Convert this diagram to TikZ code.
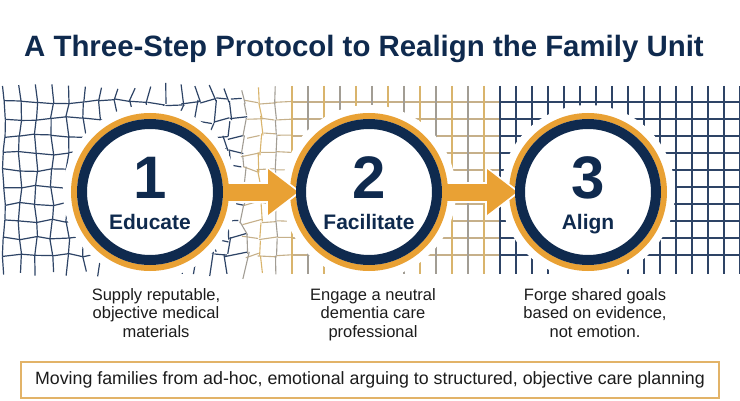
\documentclass[tikz,border=0pt]{standalone}
\usepackage{fontspec}
\setmainfont{Liberation Sans}
\usetikzlibrary{arrows.meta,positioning}
\definecolor{navy}{HTML}{0F2A4E}
\definecolor{gridnavy}{HTML}{2E4466}
\definecolor{gold}{HTML}{E9A134}
\definecolor{gridgold}{HTML}{D9B46C}
\definecolor{gridgray}{HTML}{A29D94}
\definecolor{gridtan}{HTML}{C6B08A}
\definecolor{boxgold}{HTML}{E2B368}
\definecolor{bodytext}{HTML}{1C1C1C}

\begin{document}
\begin{tikzpicture}[x=1pt, y=1pt,
  gridline/.style={line width=1.2pt, draw=#1},
  midline/.style={line width=1.1pt, draw=#1},
  halo/.style={fill=white},
  stepcircle/.style={circle, draw=gold, line width=6pt, fill=white,
                     minimum size=152pt, inner sep=0pt},
  navyring/.style={draw=navy, line width=10pt},
  stepnum/.style={text=navy, inner sep=0pt, anchor=base,
                  font=\bfseries\fontsize{60}{60}\selectfont},
  steplabel/.style={text=navy, inner sep=0pt, anchor=base,
                    font=\bfseries\fontsize{21}{21}\selectfont},
  desc/.style={text=bodytext, align=center, inner sep=0pt, anchor=north,
               font=\fontsize{16.5}{18.3}\selectfont},
  arrback/.style={white, line width=21pt, shorten <=8pt, shorten >=-11.3pt,
                  -{Triangle[length=35.3pt, width=53pt, line width=0pt]}},
  arr/.style={gold, line width=17pt, shorten <=-3pt, shorten >=-8pt,
              -{Triangle[length=30pt, width=46pt, line width=0pt]}},
  note/.style={draw=boxgold, line width=1.5pt, fill=white, text=bodytext,
               minimum width=698pt, minimum height=36pt, inner sep=0pt,
               font=\fontsize{17.8}{18}\selectfont}
]
  \useasboundingbox (0,0) rectangle (740,400);
  \fill[white] (0,0) rectangle (740,400);

  % --- Titre ---
  \node[text=navy, inner sep=0pt, anchor=base west,
        font=\bfseries\fontsize{29.4}{30}\selectfont] (title) at (24,343)
        {A Three-Step Protocol to Realign the Family Unit};

  % --- Grille de fond (deformee a gauche) ---
  \pgfmathsetseed{42}
  \foreach \i in {0,...,46} {
    \pgfmathsetmacro{\xa}{4+16*\i}
    \pgfmathsetmacro{\xb}{\xa+16}
    \pgfmathsetmacro{\ampa}{\xa<240 ? 1.5+1.5*\xa/235 : max(0,3*(290-\xa)/50)}
    \pgfmathsetmacro{\ampb}{\xb<240 ? 1.5+1.5*\xb/235 : max(0,3*(290-\xb)/50)}
    \pgfmathsetmacro{\noi}{\xa<240 ? 0.2+3*(\xa/235)*(\xa/235) : max(0,3.2*(290-\xa)/50)}
    \def\ls{gridline}%
    \ifnum\i<15 \def\vc{gridnavy}\def\hc{gridnavy}%
    \else\ifnum\i<31 \def\ls{midline}\ifodd\i\def\vc{gridgray}\else\def\vc{gridgold}\fi\def\hc{gridtan}%
    \else\def\vc{gridnavy}\def\hc{gridnavy}\fi\fi
    \foreach \j in {0,...,9} {
      \pgfmathsetmacro{\ya}{298-17*\j}
      \pgfmathsetmacro{\hxa}{\xa+\ampa*sin(37*\i+71*\j+13*\i*\j)+\noi*rand}
      \pgfmathsetmacro{\hya}{\ya+\ampa*cos(53*\i+97*\j+11*\i*\j)+\noi*rand}
      \pgfmathsetmacro{\hxb}{\xb+\ampb*sin(37*(\i+1)+71*\j+13*(\i+1)*\j)+\noi*rand}
      \pgfmathsetmacro{\hyb}{\ya+\ampb*cos(53*(\i+1)+97*\j+11*(\i+1)*\j)+\noi*rand}
      \draw[\ls=\hc] (\hxa,\hya) -- (\hxb,\hyb);
    }
    \foreach \j in {0,...,10} {
      \pgfmathsetmacro{\yt}{\j==0 ? 314 : 298-17*(\j-1)}
      \pgfmathsetmacro{\yb}{\j==10 ? 126 : 298-17*\j}
      \pgfmathsetmacro{\vxa}{\xa+\ampa*sin(37*\i+71*(\j-1)+13*\i*(\j-1))+\noi*rand}
      \pgfmathsetmacro{\vya}{\yt+\ampa*cos(53*\i+97*(\j-1)+11*\i*(\j-1))+\noi*rand}
      \pgfmathsetmacro{\vxb}{\xa+\ampa*sin(37*\i+71*\j+13*\i*\j)+\noi*rand}
      \pgfmathsetmacro{\vyb}{\yb+\ampa*cos(53*\i+97*\j+11*\i*\j)+\noi*rand}
      \draw[\ls=\vc] (\vxa,\vya) -- (\vxb,\vyb);
    }
  }

  % --- Etapes ---
  \coordinate (p1) at (150,208);
  \coordinate (p2) at (369,208);
  \coordinate (p3) at (588,208);
  \fill[halo] (p1) circle (87);
  \fill[halo] (p2) circle (87);
  \fill[halo] (p3) circle (87);

  \node[stepcircle] (c1) at (p1) {};
  \node[stepcircle] (c2) at (p2) {};
  \node[stepcircle] (c3) at (p3) {};

  % --- Fleches ---
  \draw[arrback] (c1) -- (c2);
  \draw[arr]     (c1) -- (c2);
  \draw[arrback] (c2) -- (c3);
  \draw[arr]     (c2) -- (c3);

  \draw[navyring] (c1.center) circle (68);
  \draw[navyring] (c2.center) circle (68);
  \draw[navyring] (c3.center) circle (68);

  \node[stepnum]   (n1) at (150,202) {1};
  \node[steplabel] (l1) at (150,171) {Educate};
  \node[stepnum]   (n2) at (369,202) {2};
  \node[steplabel] (l2) at (369,171) {Facilitate};
  \node[stepnum]   (n3) at (588,202) {3};
  \node[steplabel] (l3) at (588,171) {Align};

  % --- Descriptions ---
  \node[desc] (d1) at (156,111.5) {Supply reputable,\\objective medical\\materials};
  \node[desc] (d2) at (373,111.5) {Engage a neutral\\dementia care\\professional};
  \node[desc] (d3) at (595,111.5) {Forge shared goals\\based on evidence,\\not emotion.};

  % --- Message ---
  \node[note] (msg) at (370,20)
        {Moving families from ad-hoc, emotional arguing to structured, objective care planning};
\end{tikzpicture}
\end{document}
